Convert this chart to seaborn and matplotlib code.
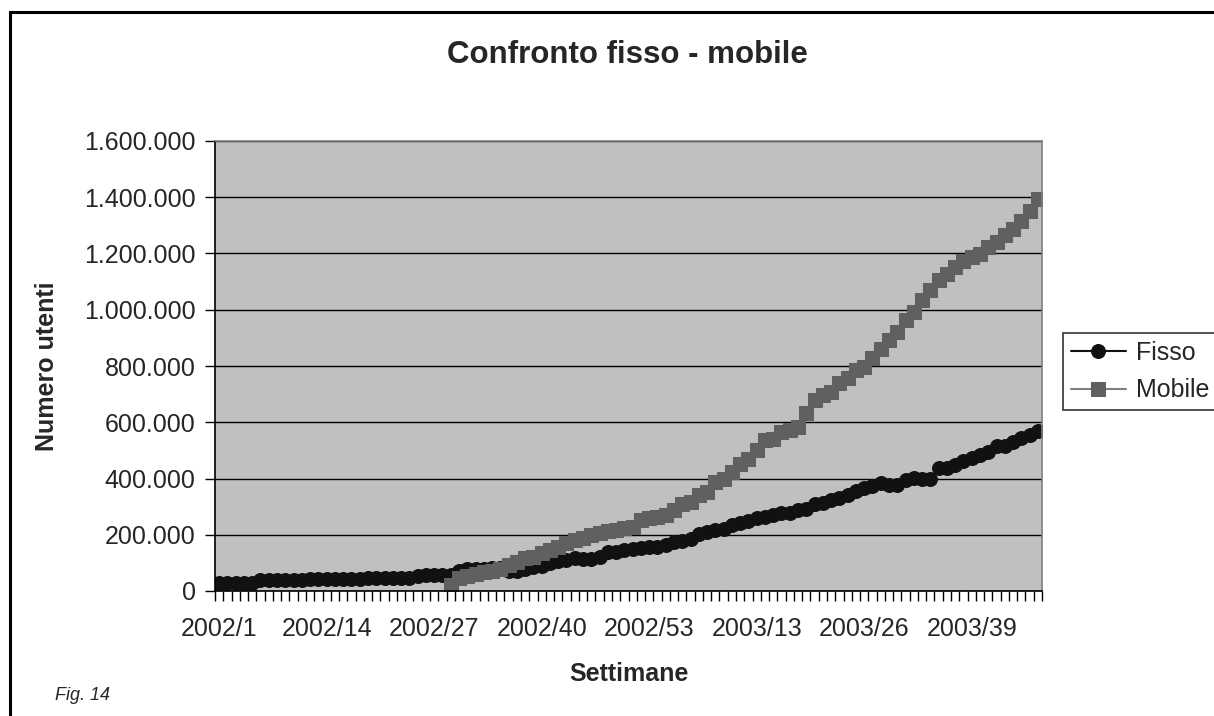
import numpy as np
import pandas as pd
import seaborn as sns
import matplotlib.pyplot as plt
from matplotlib.patches import Rectangle
from matplotlib.ticker import FuncFormatter, FixedLocator

# weeks 2002/1 .. 2002/53, 2003/1 .. 2003/47
weeks_2002 = list(range(1, 54))
weeks_2003 = list(range(1, 48))
week_labels = [f"2002/{w}" for w in weeks_2002] + [f"2003/{w}" for w in weeks_2003]
shown_labels = ["2002/1", "2002/14", "2002/27", "2002/40", "2002/53", "2003/13", "2003/26", "2003/39"]

# thousands of users
fisso = [30, 30, 30, 30, 30,
         38, 38, 38, 38, 38, 38,
         44, 44, 44,
         42, 42, 42, 42,
         48, 48, 48, 48, 48, 48,
         55, 57, 57, 57, 57,
         72, 80, 80, 80, 82, 82, 70, 70, 77, 87, 90,
         100, 108, 110, 117, 115, 115, 122, 138, 140, 146,
         150, 154, 157, 157, 163, 174, 178, 186, 202, 210,
         216, 222, 234, 242, 249, 258, 263, 269, 278, 278,
         287, 293, 309, 313, 322, 330, 342, 354, 366, 372,
         384, 378, 378, 396, 402, 398, 398, 437, 437, 449,
         461, 472, 484, 496, 514, 514, 531, 543, 555, 570]

mobile = [None] * 28 + [
         21, 45,
         55, 62, 68, 72, 78, 93, 104, 116, 120, 135,
         146, 158, 170, 181, 188, 199, 206, 215, 217, 224,
         229, 253, 258, 263, 269, 287, 311, 317, 341, 353,
         388, 400, 424, 453, 471, 501, 537, 542, 566, 572,
         584, 632, 679, 697, 709, 740, 756, 785, 797, 827,
         862, 892, 921, 962, 992, 1036, 1069, 1104, 1128, 1151,
         1175, 1187, 1199, 1222, 1240, 1264, 1287, 1317, 1352, 1394]

df = pd.DataFrame({
    "Settimana": np.arange(len(week_labels)),
    "Fisso": np.array(fisso, dtype=float) * 1000,
    "Mobile": np.array(mobile, dtype=float) * 1000,
})

sns.set_theme(style="white")
plt.rcParams['font.family'] = ['Liberation Sans', 'DejaVu Sans']

fig = plt.figure(figsize=(12.14, 7.16), dpi=100)
ax = fig.add_axes([215 / 1214, 1 - 591 / 716, (1042 - 215) / 1214, (591 - 141) / 716])
ax.set_facecolor("#c0c0c0")

sns.lineplot(data=df, x="Settimana", y="Fisso", ax=ax, color="#111111", lw=1.5,
             marker="o", markersize=10, markeredgecolor="#111111", label="Fisso")
sns.lineplot(data=df.dropna(), x="Settimana", y="Mobile", ax=ax, color="#808080", lw=1.5,
             marker="s", markersize=9.5, markerfacecolor="#606060",
             markeredgecolor="#606060", label="Mobile")

ax.set_xlim(-0.5, len(week_labels) - 0.5)
ax.set_ylim(0, 1600000)
ax.set_yticks(np.arange(0, 1600001, 200000))
ax.yaxis.set_major_formatter(FuncFormatter(lambda v, p: f"{int(v):,}".replace(",", ".")))
ax.yaxis.grid(True, color="#000000", lw=1)
ax.set_axisbelow(True)

label_pos = [week_labels.index(s) for s in shown_labels]
ax.set_xticks(label_pos)
ax.set_xticklabels(shown_labels)
ax.xaxis.set_minor_locator(FixedLocator(np.arange(-0.5, len(week_labels), 1)))
ax.tick_params(axis="x", which="major", length=0, pad=19, labelsize=18)
ax.tick_params(axis="x", which="minor", length=7, width=1, color="black", direction="out", bottom=True)
ax.tick_params(axis="y", length=7, width=1, color="black", direction="out", left=True, pad=7, labelsize=18)

for s in ["left", "bottom"]:
    ax.spines[s].set_color("black")
    ax.spines[s].set_linewidth(1.2)
for s in ["top", "right"]:
    ax.spines[s].set_color("#808080")
    ax.spines[s].set_linewidth(1.2)

ax.set_xlabel("Settimane", fontsize=18, fontweight="bold", labelpad=15)
ax.set_ylabel("Numero utenti", fontsize=18, fontweight="bold", labelpad=18)
fig.text(627 / 1214, 1 - 55 / 716, "Confronto fisso - mobile", fontsize=22.5,
         fontweight="bold", ha="center", va="center")

ax.get_legend().remove()
handles, labels = ax.get_legend_handles_labels()
leg = fig.legend(handles, labels, loc="upper left", bbox_to_anchor=(1063 / 1214, 1 - 333 / 716),
                 fontsize=18, frameon=True, fancybox=False, edgecolor="black",
                 handlelength=2.2, borderpad=0.3, labelspacing=0.55, handletextpad=0.4,
                 borderaxespad=0)
leg.get_frame().set_linewidth(1.2)

fig.text(55 / 1214, 1 - 695 / 716, "Fig. 14", fontsize=13, style="italic", ha="left", va="center")

fig.patches.append(Rectangle((10 / 1214, -0.05), 1.2, 1 - 12 / 716 + 0.05, transform=fig.transFigure,
                             fill=False, edgecolor="black", lw=2.2))

fig.savefig("out.png", dpi=100, facecolor="white")
